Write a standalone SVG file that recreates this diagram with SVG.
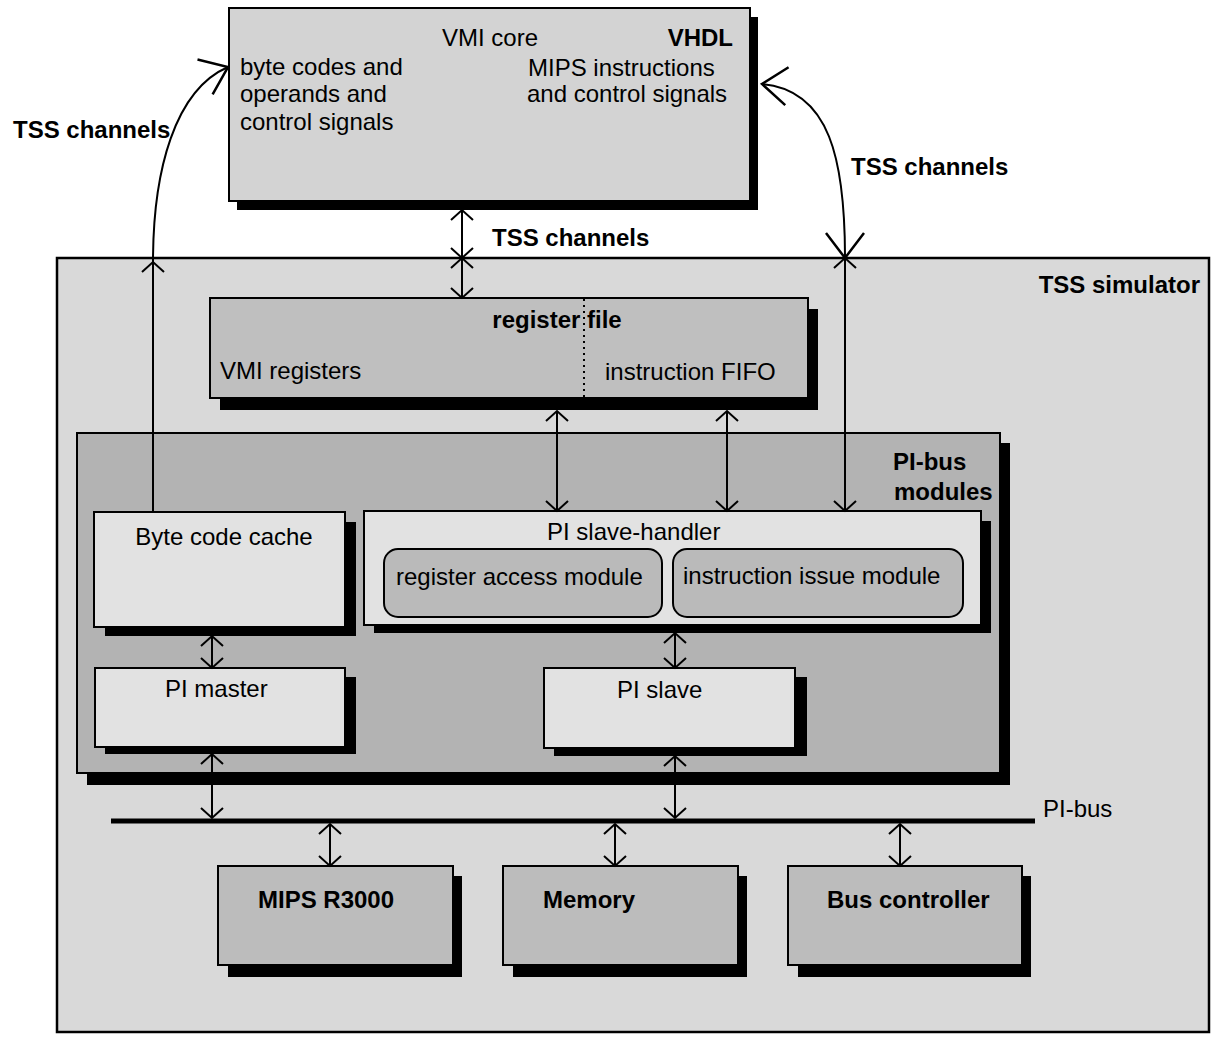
<svg xmlns="http://www.w3.org/2000/svg" width="1213" height="1038" viewBox="0 0 1213 1038">
<style>
text{font-family:"Liberation Sans",Arial,sans-serif;font-size:24px;fill:#000}
.b{font-weight:bold}
.m{text-anchor:middle}
.e{text-anchor:end}
.box{stroke:#000;stroke-width:2}
.sh{fill:#000}
.con{fill:none;stroke:#000;stroke-width:2}
</style>
<defs>
<marker id="hs" markerUnits="userSpaceOnUse" orient="auto-start-reverse" style="overflow:visible" refX="0" refY="0" markerWidth="1" markerHeight="1">
<path d="M-10,-11 L0,0 L-10,11" fill="none" stroke="#000" stroke-width="2"/>
</marker>
<marker id="hl" markerUnits="userSpaceOnUse" orient="auto-start-reverse" style="overflow:visible" refX="0" refY="0" markerWidth="1" markerHeight="1">
<path d="M-25,-19 L0,0 L-25,19" fill="none" stroke="#000" stroke-width="2.5"/>
</marker>
</defs>
<rect width="1213" height="1038" fill="#fff"/>

<g id="tss-simulator">
<rect x="57" y="258" width="1152" height="774" fill="#d9d9d9" stroke="#000" stroke-width="2.5"/>
<text class="b e" x="1200" y="293">TSS simulator</text>
</g>

<g id="vmi-core">
<rect class="sh" x="237" y="17" width="521" height="193"/>
<rect class="box" x="229" y="8" width="521" height="193" fill="#d3d3d3"/>
<text x="442" y="46">VMI core</text>
<text class="b e" x="733" y="46">VHDL</text>
<text x="240" y="75">byte codes and</text>
<text x="240" y="102">operands and</text>
<text x="240" y="130">control signals</text>
<text x="528" y="76">MIPS instructions</text>
<text x="527" y="102">and control signals</text>
</g>

<g id="register-file">
<rect class="sh" x="220" y="309" width="598" height="101"/>
<rect class="box" x="210" y="298" width="598" height="100" fill="#bfbfbf"/>
<line x1="584" y1="299" x2="584" y2="397" stroke="#000" stroke-width="2" stroke-dasharray="2,4"/>
<text class="b m" x="557" y="328">register file</text>
<text x="220" y="379">VMI registers</text>
<text x="605" y="380">instruction FIFO</text>
</g>

<g id="pi-bus-modules">
<rect class="sh" x="87" y="443" width="923" height="342"/>
<rect class="box" x="77" y="433" width="923" height="340" fill="#b3b3b3"/>
<text class="b" x="893" y="470">PI-bus</text>
<text class="b" x="894" y="500">modules</text>
</g>

<g id="byte-code-cache">
<rect class="sh" x="105" y="522" width="251" height="114"/>
<rect class="box" x="94" y="512" width="251" height="115" fill="#e2e2e2"/>
<text class="m" x="224" y="545">Byte code cache</text>
</g>

<g id="pi-slave-handler">
<rect class="sh" x="374" y="521" width="617" height="112"/>
<rect class="box" x="364" y="511" width="617" height="114" fill="#e2e2e2"/>
<text x="547" y="540">PI slave-handler</text>
</g>

<g id="register-access-module">
<rect class="box" x="384" y="549" width="278" height="68" rx="14" fill="#bababa"/>
<text x="396" y="585">register access module</text>
</g>

<g id="instruction-issue-module">
<rect class="box" x="673" y="549" width="290" height="68" rx="14" fill="#bababa"/>
<text x="683" y="584">instruction issue module</text>
</g>

<g id="pi-master">
<rect class="sh" x="105" y="677" width="251" height="77"/>
<rect class="box" x="95" y="668" width="250" height="79" fill="#e2e2e2"/>
<text x="165" y="697">PI master</text>
</g>

<g id="pi-slave">
<rect class="sh" x="554" y="677" width="253" height="79"/>
<rect class="box" x="544" y="668" width="251" height="80" fill="#e2e2e2"/>
<text x="617" y="698">PI slave</text>
</g>

<g id="mips-r3000">
<rect class="sh" x="228" y="876" width="234" height="101"/>
<rect class="box" x="218" y="866" width="235" height="99" fill="#bcbcbc"/>
<text class="b" x="258" y="908">MIPS R3000</text>
</g>

<g id="memory">
<rect class="sh" x="513" y="876" width="234" height="101"/>
<rect class="box" x="503" y="866" width="235" height="99" fill="#bcbcbc"/>
<text class="b" x="543" y="908">Memory</text>
</g>

<g id="bus-controller">
<rect class="sh" x="798" y="876" width="233" height="101"/>
<rect class="box" x="788" y="866" width="234" height="99" fill="#bcbcbc"/>
<text class="b" x="827" y="908">Bus controller</text>
</g>

<g id="pi-bus">
<line x1="111" y1="821" x2="1035" y2="821" stroke="#000" stroke-width="5"/>
<text x="1043" y="817">PI-bus</text>
</g>

<g id="connectors">
<path class="con" d="M153,512 L153,262" marker-end="url(#hs)"/>
<path class="con" d="M153,262 C153,170 175,90 228,67" marker-end="url(#hl)"/>
<path class="con" d="M845,258 C845,160 830,90 762,84" marker-start="url(#hl)" marker-end="url(#hl)"/>
<path class="con" d="M845,258 L845,511" marker-start="url(#hs)" marker-end="url(#hs)"/>
<path class="con" d="M462,210 L462,258" marker-start="url(#hs)" marker-end="url(#hs)"/>
<path class="con" d="M462,258 L462,298" marker-start="url(#hs)" marker-end="url(#hs)"/>
<path class="con" d="M557,411 L557,511" marker-start="url(#hs)" marker-end="url(#hs)"/>
<path class="con" d="M727,411 L727,511" marker-start="url(#hs)" marker-end="url(#hs)"/>
<path class="con" d="M212,636 L212,668" marker-start="url(#hs)" marker-end="url(#hs)"/>
<path class="con" d="M675,633 L675,668" marker-start="url(#hs)" marker-end="url(#hs)"/>
<path class="con" d="M212,754 L212,818" marker-start="url(#hs)" marker-end="url(#hs)"/>
<path class="con" d="M675,756 L675,818" marker-start="url(#hs)" marker-end="url(#hs)"/>
<path class="con" d="M330,824 L330,866" marker-start="url(#hs)" marker-end="url(#hs)"/>
<path class="con" d="M615,824 L615,866" marker-start="url(#hs)" marker-end="url(#hs)"/>
<path class="con" d="M900,824 L900,866" marker-start="url(#hs)" marker-end="url(#hs)"/>
</g>
<g id="labels">
<text class="b" x="13" y="138">TSS channels</text>
<text class="b" x="492" y="246">TSS channels</text>
<text class="b" x="851" y="175">TSS channels</text>
</g>
</svg>
